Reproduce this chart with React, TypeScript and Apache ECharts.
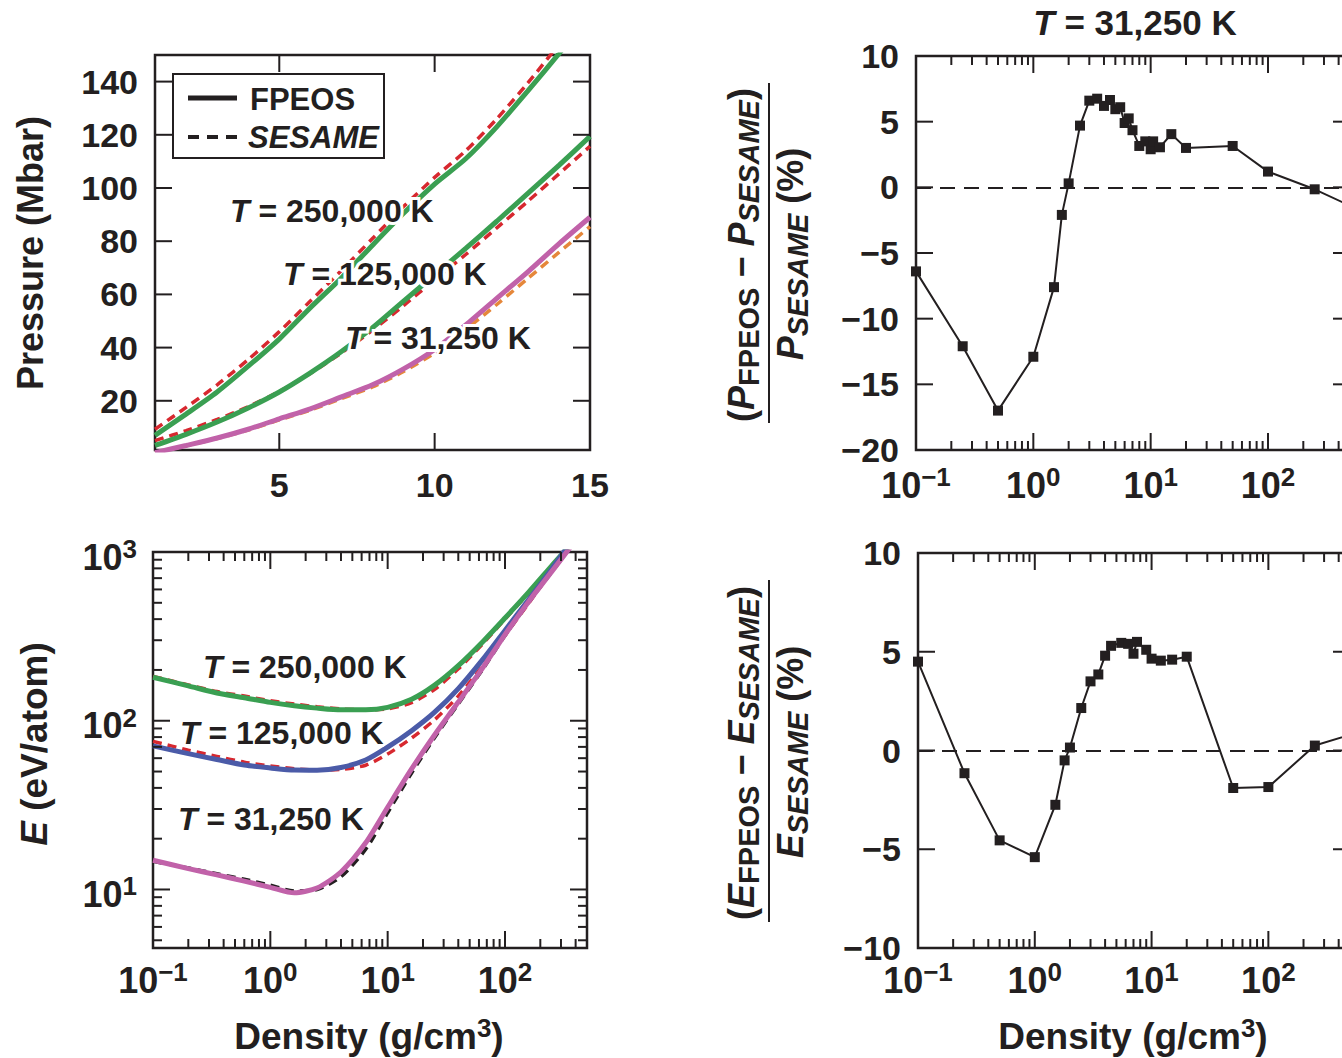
import React, { useEffect, useRef } from 'react';
import * as echarts from 'echarts';

const FONT = '"Liberation Sans", Arial, Helvetica, sans-serif';
const INK = '#231f20';
const GREEN = '#3a9f52';
const RED = '#d7282f';
const BLUE = '#4b5ba8';
const MAGENTA = '#c162a9';
const ORANGE = '#e5873a';

// ---- Top-left: pressure (Mbar) vs density (g/cm3), linear ----
const P_DENSITY = [1, 2, 3, 4, 5, 6, 7, 8, 9, 10, 11, 12, 13, 14, 15];
const P_FPEOS_250K = [7.0, 15.0, 23.3, 33.0, 43.2, 55.0, 66.2, 78.5, 90.5, 101.5, 111.0, 123.0, 136.5, 150.5, 165.0];
const P_SESAME_250K = [9.3, 17.5, 26.0, 35.5, 46.0, 57.5, 69.0, 81.0, 93.0, 104.0, 114.0, 126.0, 139.5, 154.0, 169.0];
const P_FPEOS_125K = [3.2, 7.4, 12.0, 17.3, 23.3, 30.5, 38.5, 47.5, 57.5, 67.3, 77.3, 87.5, 98.0, 108.5, 119.4];
const P_SESAME_125K = [5.0, 8.8, 13.0, 17.8, 23.5, 30.3, 38.0, 46.5, 55.8, 65.5, 75.0, 85.0, 95.0, 105.3, 115.7];
const P_FPEOS_31K = [0.5, 3.2, 6.0, 9.3, 13.2, 17.0, 21.5, 26.0, 32.0, 39.3, 48.5, 58.5, 68.5, 79.0, 89.0];
const P_SESAME_31K = [0.5, 3.1, 5.8, 9.0, 12.8, 16.5, 20.8, 25.2, 31.0, 38.0, 46.8, 56.2, 66.0, 75.8, 85.5];

// ---- Bottom-left: energy (eV/atom) vs density, log-log ----
const E_DENSITY = [0.1, 0.2, 0.35, 0.6, 1, 1.6, 2.5, 4, 6.5, 10, 16, 25, 40, 65, 100, 160, 250, 400, 500];
const E_FPEOS_250K = [181, 161, 146, 137, 128.5, 122.7, 118.8, 116, 116, 120, 134, 162, 212, 295, 406, 580, 828, 1200, 1500];
const E_SESAME_250K = [183, 163, 149, 140, 131.5, 125.5, 121, 117.5, 116, 117.5, 128, 153, 203, 287, 400, 575, 825, 1200, 1500];
const E_FPEOS_125K = [71, 63.8, 58.9, 54.6, 52.5, 51, 50.9, 52.8, 58.5, 69.7, 87.3, 112, 155, 232, 343, 524, 794, 1260, 1560];
const E_SESAME_125K = [75.5, 67, 61.5, 56.8, 54, 52, 51, 51.5, 54.5, 63.5, 79, 101, 140, 213, 320, 500, 770, 1240, 1540];
const E_FPEOS_31K = [14.9, 13.3, 12.2, 11.2, 10.3, 9.55, 10.2, 12.7, 18.9, 30.7, 51.8, 82, 129, 207, 324, 511, 765, 1175, 1450];
const E_SESAME_31K = [14.7, 13.4, 12.4, 11.5, 10.6, 9.8, 10.0, 11.9, 17.3, 28.5, 49, 79, 126, 203, 320, 505, 760, 1175, 1450];

// ---- Top-right: pressure difference (%) at T = 31,250 K ----
const DP_DENSITY = [0.1, 0.25, 0.5, 1, 1.5, 1.75, 2, 2.5, 3, 3.5, 4, 4.5, 5, 5.5, 6, 6.5, 7, 8, 9, 10, 10.5, 12, 15, 20, 50, 100, 250, 500];
const DP_PERCENT = [-6.4, -12.1, -17.0, -12.9, -7.6, -2.1, 0.3, 4.7, 6.6, 6.75, 6.2, 6.65, 5.95, 6.1, 4.9, 5.25, 4.35, 3.15, 3.5, 2.9, 3.5, 3.05, 4.05, 3.0, 3.15, 1.2, -0.15, -1.4];

// ---- Bottom-right: energy difference (%) ----
const DE_DENSITY = [0.1, 0.25, 0.5, 1, 1.5, 1.8, 2, 2.5, 3, 3.5, 4, 4.5, 5.5, 6.3, 7, 7.5, 9, 10, 12, 15, 20, 50, 100, 250, 500];
const DE_PERCENT = [4.5, -1.15, -4.55, -5.4, -2.75, -0.5, 0.15, 2.15, 3.5, 3.85, 4.8, 5.3, 5.45, 5.4, 4.9, 5.5, 5.1, 4.65, 4.55, 4.6, 4.75, -1.9, -1.85, 0.25, 0.8];

// ---- Tick positions ----
const P_X_LABELS = [5, 10, 15];
const P_X_TICKS = [5, 10];
const P_Y_TICKS = [20, 40, 60, 80, 100, 120, 140];
const LOG_X_MAJOR = [1, 10, 100];
const LOG_X_MINOR = [0.2, 0.3, 0.4, 0.5, 0.6, 0.7, 0.8, 0.9, 2, 3, 4, 5, 6, 7, 8, 9, 20, 30, 40, 50, 60, 70, 80, 90, 200, 300, 400];
const E_Y_MAJOR = [10, 100];
const E_Y_MINOR = [5, 6, 7, 8, 9, 20, 30, 40, 50, 60, 70, 80, 90, 200, 300, 400, 500, 600, 700, 800, 900];
const DP_Y_TICKS = [-15, -10, -5, 0, 5];
const DE_Y_TICKS = [-5, 0, 5];

const MAJOR_LEN = 17;
const MINOR_LEN = 9;

const pairs = (xs: number[], ys: number[]) => xs.map((x, i) => [x, ys[i]]);

function curve(grid: number, xs: number[], ys: number[], color: string, dashed: boolean) {
  return {
    type: 'line',
    xAxisIndex: grid,
    yAxisIndex: grid,
    data: pairs(xs, ys),
    showSymbol: false,
    symbol: 'none',
    smooth: 0.25,
    silent: true,
    z: dashed ? 2 : 3,
    lineStyle: { color, width: dashed ? 3.5 : 5, type: dashed ? [9, 6] : 'solid' },
  };
}

function diffSeries(grid: number, xs: number[], ys: number[]) {
  return {
    type: 'line',
    xAxisIndex: grid,
    yAxisIndex: grid,
    data: pairs(xs, ys),
    symbol: 'rect',
    symbolSize: 10,
    showSymbol: true,
    silent: true,
    z: 4,
    itemStyle: { color: INK },
    lineStyle: { color: INK, width: 2 },
    markLine: {
      silent: true,
      symbol: 'none',
      label: { show: false },
      lineStyle: { color: INK, width: 2, type: [15, 9] },
      data: [{ yAxis: 0 }],
    },
  };
}

function ticks(grid: number, axis: 'x' | 'y', ref: number, major: number[], minor: number[]) {
  const mk = (v: number, len: number) => (axis === 'x' ? [v, ref, len] : [ref, v, len]);
  const data = [...major.map((v) => mk(v, MAJOR_LEN)), ...minor.map((v) => mk(v, MINOR_LEN))];
  return {
    type: 'custom',
    xAxisIndex: grid,
    yAxisIndex: grid,
    silent: true,
    z: 6,
    data,
    renderItem: (params: any, api: any) => {
      const cs = params.coordSys;
      const len = api.value(2);
      const p = api.coord([api.value(0), api.value(1)]);
      const style = { stroke: INK, lineWidth: 2 };
      if (axis === 'x') {
        const x = p[0];
        const yb = cs.y + cs.height;
        return {
          type: 'group',
          children: [
            { type: 'line', shape: { x1: x, y1: yb, x2: x, y2: yb - len }, style },
            { type: 'line', shape: { x1: x, y1: cs.y, x2: x, y2: cs.y + len }, style },
          ],
        };
      }
      const y = p[1];
      const xr = cs.x + cs.width;
      return {
        type: 'group',
        children: [
          { type: 'line', shape: { x1: cs.x, y1: y, x2: cs.x + len, y2: y }, style },
          { type: 'line', shape: { x1: xr, y1: y, x2: xr - len, y2: y }, style },
        ],
      };
    },
  };
}

const numLabel = { fontSize: 34, fontWeight: 'bold', fontFamily: FONT, color: INK, lineHeight: 40 };
const logRich = {
  b: { fontSize: 36, fontWeight: 'bold', fontFamily: FONT, color: INK, lineHeight: 42 },
  s: { fontSize: 26, fontWeight: 'bold', fontFamily: FONT, color: INK, lineHeight: 14, verticalAlign: 'top' },
};
const logLabel = (v: number) => {
  const l = Math.log10(v);
  const e = Math.round(l);
  if (Math.abs(l - e) > 1e-6) return '';
  return `{b|10}{s|${e < 0 ? '\u2212' + -e : e}}`;
};
const minusLabel = (v: number) => String(v).replace('-', '\u2212');

const axisBase = {
  axisLine: { show: false },
  axisTick: { show: false },
  splitLine: { show: false },
  minorTick: { show: false },
};

const gridBase = {
  show: true,
  borderColor: INK,
  borderWidth: 2.5,
  backgroundColor: 'rgba(0,0,0,0)',
  outerBoundsMode: 'none',
  containLabel: false,
};

const txt = (size: number, italic = false) => ({
  fontSize: size,
  fontWeight: 'bold',
  fontStyle: italic ? 'italic' : 'normal',
  fontFamily: FONT,
  fill: INK,
});

function text(x: number, y: number, content: string, size: number, opts: any = {}) {
  return {
    type: 'text',
    x,
    y,
    rotation: opts.rotation || 0,
    z: 100,
    silent: true,
    style: {
      text: content,
      ...txt(size, !!opts.italic),
      textAlign: opts.align || 'center',
      textVerticalAlign: 'middle',
      rich: opts.rich,
      ...(opts.halo ? { stroke: '#ffffff', lineWidth: 6 } : {}),
    },
  };
}

const tRich = (size: number) => ({
  i: { ...txt(size, true) },
  n: { ...txt(size) },
});

const fracRich = {
  p: { ...txt(36), lineHeight: 44 },
  pi: { ...txt(36, true), lineHeight: 44 },
  s: { ...txt(29), lineHeight: 18, verticalAlign: 'bottom' },
  si: { ...txt(29, true), lineHeight: 18, verticalAlign: 'bottom' },
};

const supRich = {
  n: { ...txt(37), lineHeight: 42 },
  i: { ...txt(37, true), lineHeight: 42 },
  s: { ...txt(26), lineHeight: 16, verticalAlign: 'top' },
};

function buildOption() {
  return {
    animation: false,
    backgroundColor: '#ffffff',
    grid: [
      { ...gridBase, left: 155, top: 55, width: 435, height: 395 },
      { ...gridBase, left: 153, top: 552, width: 434, height: 396 },
      { ...gridBase, left: 916, top: 56, width: 434, height: 394 },
      { ...gridBase, left: 918, top: 553, width: 432, height: 395 },
    ],
    xAxis: [
      { ...axisBase, type: 'value', gridIndex: 0, min: 1, max: 15, axisLabel: { ...numLabel, customValues: P_X_LABELS, margin: 15, showMaxLabel: true } },
      { ...axisBase, type: 'log', logBase: 10, gridIndex: 1, min: 0.1, max: 500, axisLabel: { formatter: logLabel, rich: logRich, margin: 11 } },
      { ...axisBase, type: 'log', logBase: 10, gridIndex: 2, min: 0.1, max: 500, axisLabel: { formatter: logLabel, rich: logRich, margin: 14 } },
      { ...axisBase, type: 'log', logBase: 10, gridIndex: 3, min: 0.1, max: 500, axisLabel: { formatter: logLabel, rich: logRich, margin: 11 } },
    ],
    yAxis: [
      { ...axisBase, type: 'value', gridIndex: 0, min: 1.5, max: 150, axisLabel: { ...numLabel, customValues: P_Y_TICKS, margin: 17, padding: [5, 0, 0, 0] } },
      { ...axisBase, type: 'log', logBase: 10, gridIndex: 1, min: 4.5, max: 1000, axisLabel: { formatter: logLabel, rich: logRich, margin: 16, padding: [10, 0, 0, 0] } },
      { ...axisBase, type: 'value', gridIndex: 2, min: -20, max: 10, interval: 5, axisLabel: { ...numLabel, formatter: minusLabel, margin: 17, padding: [4, 0, 0, 0] } },
      { ...axisBase, type: 'value', gridIndex: 3, min: -10, max: 10, interval: 5, axisLabel: { ...numLabel, formatter: minusLabel, margin: 17, padding: [4, 0, 0, 0] } },
    ],
    series: [
      curve(0, P_DENSITY, P_SESAME_250K, RED, true),
      curve(0, P_DENSITY, P_FPEOS_250K, GREEN, false),
      curve(0, P_DENSITY, P_SESAME_125K, RED, true),
      curve(0, P_DENSITY, P_FPEOS_125K, GREEN, false),
      curve(0, P_DENSITY, P_SESAME_31K, ORANGE, true),
      curve(0, P_DENSITY, P_FPEOS_31K, MAGENTA, false),
      curve(1, E_DENSITY, E_SESAME_250K, RED, true),
      curve(1, E_DENSITY, E_FPEOS_250K, GREEN, false),
      curve(1, E_DENSITY, E_SESAME_125K, RED, true),
      curve(1, E_DENSITY, E_FPEOS_125K, BLUE, false),
      curve(1, E_DENSITY, E_SESAME_31K, INK, true),
      curve(1, E_DENSITY, E_FPEOS_31K, MAGENTA, false),
      diffSeries(2, DP_DENSITY, DP_PERCENT),
      diffSeries(3, DE_DENSITY, DE_PERCENT),
      ticks(0, 'x', 1.5, P_X_TICKS, []),
      ticks(0, 'y', 1, P_Y_TICKS, []),
      ticks(1, 'x', 4.5, LOG_X_MAJOR, LOG_X_MINOR),
      ticks(1, 'y', 0.1, E_Y_MAJOR, E_Y_MINOR),
      ticks(2, 'x', -20, LOG_X_MAJOR, LOG_X_MINOR),
      ticks(2, 'y', 0.1, DP_Y_TICKS, []),
      ticks(3, 'x', -10, LOG_X_MAJOR, LOG_X_MINOR),
      ticks(3, 'y', 0.1, DE_Y_TICKS, []),
    ],
    graphic: [
      // legend
      { type: 'rect', z: 90, silent: true, shape: { x: 173, y: 74, width: 211, height: 84 }, style: { fill: '#ffffff', stroke: INK, lineWidth: 2 } },
      { type: 'line', z: 95, silent: true, shape: { x1: 188, y1: 98, x2: 237, y2: 98 }, style: { stroke: INK, lineWidth: 5 } },
      { type: 'line', z: 95, silent: true, shape: { x1: 188, y1: 137, x2: 237, y2: 137 }, style: { stroke: INK, lineWidth: 4, lineDash: [11, 8] } },
      text(250, 99, 'FPEOS', 31, { align: 'left' }),
      text(248, 137, 'SESAME', 31, { align: 'left', italic: true }),
      // top-left annotations
      text(230, 211, '{i|T}{n| = 250,000 K}', 32, { align: 'left', rich: tRich(32), halo: true }),
      text(283, 274, '{i|T}{n| = 125,000 K}', 32, { align: 'left', rich: tRich(32), halo: true }),
      text(345, 338, '{i|T}{n| = 31,250 K}', 32, { align: 'left', rich: tRich(32), halo: true }),
      // bottom-left annotations
      text(203, 667, '{i|T}{n| = 250,000 K}', 32, { align: 'left', rich: tRich(32), halo: true }),
      text(180, 733, '{i|T}{n| = 125,000 K}', 32, { align: 'left', rich: tRich(32), halo: true }),
      text(178, 819, '{i|T}{n| = 31,250 K}', 32, { align: 'left', rich: tRich(32), halo: true }),
      // axis titles, left
      text(30, 253, 'Pressure (Mbar)', 36, { rotation: Math.PI / 2 }),
      text(34, 744, '{i|E}{n| (eV/atom)}', 36, { rotation: Math.PI / 2, rich: supRich }),
      text(369, 1036, '{n|Density (g/cm}{s|3}{n|)}', 37, { rich: supRich }),
      text(1133, 1036, '{n|Density (g/cm}{s|3}{n|)}', 37, { rich: supRich }),
      // title
      text(1135, 22, '{i|T}{n| = 31,250 K}', 35, { rich: tRich(35) }),
      // right fraction labels
      text(741, 255, '{p|(}{pi|P}{s|FPEOS}{p| \u2212 }{pi|P}{si|SESAME}{p|)}', 36, { rotation: Math.PI / 2, rich: fracRich }),
      { type: 'line', z: 95, silent: true, shape: { x1: 769, y1: 83, x2: 769, y2: 423 }, style: { stroke: INK, lineWidth: 2 } },
      text(790, 254, '{pi|P}{si|SESAME}{p| (%)}', 36, { rotation: Math.PI / 2, rich: fracRich }),
      text(741, 753, '{p|(}{pi|E}{s|FPEOS}{p| \u2212 }{pi|E}{si|SESAME}{p|)}', 36, { rotation: Math.PI / 2, rich: fracRich }),
      { type: 'line', z: 95, silent: true, shape: { x1: 769, y1: 580, x2: 769, y2: 922 }, style: { stroke: INK, lineWidth: 2 } },
      text(790, 752, '{pi|E}{si|SESAME}{p| (%)}', 36, { rotation: Math.PI / 2, rich: fracRich }),
    ],
  };
}

export default function App() {
  const ref = useRef<HTMLDivElement>(null);
  useEffect(() => {
    if (!ref.current) return;
    const chart = echarts.init(ref.current, undefined, { renderer: 'svg' });
    chart.setOption(buildOption() as any);
    return () => chart.dispose();
  }, []);
  return (
    <div
      ref={ref}
      style={{ position: 'fixed', left: 0, top: 0, width: 1342, height: 1058, background: '#ffffff' }}
    />
  );
}
